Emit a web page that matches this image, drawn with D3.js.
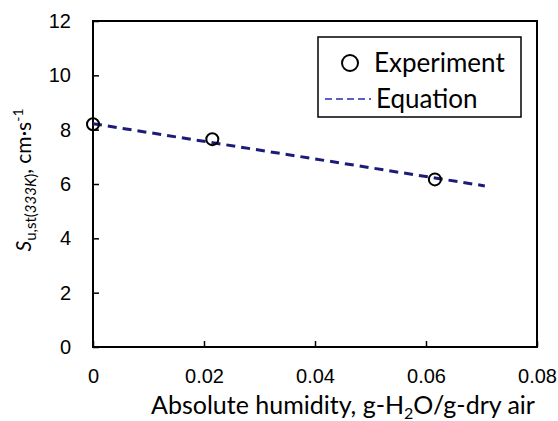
<!DOCTYPE html>
<html>
<head>
<meta charset="utf-8">
<script src="https://cdn.jsdelivr.net/npm/d3@7"></script>
<style>
body { margin: 0; background: #fff; }
</style>
</head>
<body>
<div id="wrapper"></div>
<script>
// experiment points (absolute humidity, burning velocity)
const expX = [0, 0.0215, 0.0616];
const expY = [8.2, 7.65, 6.17];
// fitted equation line (end points)
const eqX = [0, 0.0706];
const eqY = [8.22, 5.93];
const xTicks = [0, 0.02, 0.04, 0.06, 0.08];
const yTicks = [0, 2, 4, 6, 8, 10, 12];

const dimension = {
    width: 558,
    height: 421,
    margin: { top: 21, right: 21, bottom: 74, left: 93 }
};
dimension.boundedWidth = dimension.width - dimension.margin.left - dimension.margin.right;
dimension.boundedHeight = dimension.height - dimension.margin.top - dimension.margin.bottom;

const svg = d3.select("#wrapper").append("svg")
    .attr("width", dimension.width)
    .attr("height", dimension.height);

const bounds = svg.append("g")
    .attr("transform", `translate(${dimension.margin.left},${dimension.margin.top})`);

const x = d3.scaleLinear().domain([0, 0.08]).range([0, dimension.boundedWidth]);
const y = d3.scaleLinear().domain([0, 12]).range([dimension.boundedHeight, 0]);

const tickFont = "'Liberation Sans', Arial, sans-serif";
const labelFont = "Lato, 'Open Sans', sans-serif";

// axes: ticks point inward, labels set apart
const xAxis = bounds.append("g")
    .attr("transform", `translate(0,${dimension.boundedHeight})`)
    .call(d3.axisBottom(x).tickValues(xTicks).tickSizeInner(-6).tickSizeOuter(0).tickPadding(22)
        .tickFormat(d => d === 0 ? "0" : d3.format(".2f")(d)));
xAxis.select(".domain").remove();
xAxis.selectAll("line").attr("stroke", "#000").attr("stroke-width", 1.5);
xAxis.selectAll("text").style("font-family", tickFont).style("font-size", "20px").attr("fill", "#000");

const yAxis = bounds.append("g")
    .call(d3.axisLeft(y).tickValues(yTicks).tickSizeInner(-6).tickSizeOuter(0).tickPadding(22));
yAxis.select(".domain").remove();
yAxis.selectAll("line").attr("stroke", "#000").attr("stroke-width", 1.5);
yAxis.selectAll("text").style("font-family", tickFont).style("font-size", "20px").attr("fill", "#000");

// frame
bounds.append("rect")
    .attr("width", dimension.boundedWidth)
    .attr("height", dimension.boundedHeight)
    .attr("fill", "none")
    .attr("stroke", "#000")
    .attr("stroke-width", 2);

// equation line
const eqData = eqX.map((d, i) => [d, eqY[i]]);
bounds.append("path")
    .datum(eqData)
    .attr("d", d3.line().x(d => x(d[0])).y(d => y(d[1])))
    .attr("fill", "none")
    .attr("stroke", "#1c1c78")
    .attr("stroke-width", 3)
    .attr("stroke-dasharray", "9,6");

// experiment points
const expData = expX.map((d, i) => [d, expY[i]]);
bounds.selectAll("circle.pt")
    .data(expData)
    .enter()
    .append("circle")
    .attr("class", "pt")
    .attr("cx", d => x(d[0]))
    .attr("cy", d => y(d[1]))
    .attr("r", 6)
    .attr("fill", "none")
    .attr("stroke", "#000")
    .attr("stroke-width", 2);

// legend
const legend = svg.append("g");
legend.append("rect")
    .attr("x", 318).attr("y", 37)
    .attr("width", 203).attr("height", 80)
    .attr("fill", "#fff")
    .attr("stroke", "#000")
    .attr("stroke-width", 1.5);
legend.append("circle")
    .attr("cx", 350).attr("cy", 63).attr("r", 8)
    .attr("fill", "none").attr("stroke", "#000").attr("stroke-width", 2);
legend.append("text")
    .attr("x", 374).attr("y", 72)
    .style("font-family", labelFont).style("font-size", "26px")
    .text("Experiment");
legend.append("line")
    .attr("x1", 325).attr("x2", 371).attr("y1", 99).attr("y2", 99)
    .attr("stroke", "#2a2ab0").attr("stroke-width", 1.5)
    .attr("stroke-dasharray", "7,4");
legend.append("text")
    .attr("x", 376).attr("y", 108)
    .style("font-family", labelFont).style("font-size", "26px")
    .text("Equation");

// x title
const xTitle = svg.append("text")
    .attr("x", 343).attr("y", 414)
    .attr("text-anchor", "middle")
    .style("font-family", labelFont).style("font-size", "25px");
xTitle.append("tspan").text("Absolute humidity, g-H");
xTitle.append("tspan").attr("dy", 5).style("font-size", "16px").text("2");
xTitle.append("tspan").attr("dy", -5).text("O/g-dry air");

// y title
const yTitle = svg.append("text")
    .attr("transform", "translate(31,180) rotate(-90)")
    .attr("text-anchor", "middle")
    .style("font-family", labelFont).style("font-size", "21px");
yTitle.append("tspan").style("font-style", "italic").text("S");
yTitle.append("tspan").attr("dy", 5).style("font-size", "15px").text("u,st(");
yTitle.append("tspan").style("font-size", "15px").style("font-style", "italic").text("333K");
yTitle.append("tspan").style("font-size", "15px").text(")");
yTitle.append("tspan").attr("dy", -5).text(", cm·s");
yTitle.append("tspan").attr("dy", -8).style("font-size", "14px").text("-1");
</script>
</body>
</html>
